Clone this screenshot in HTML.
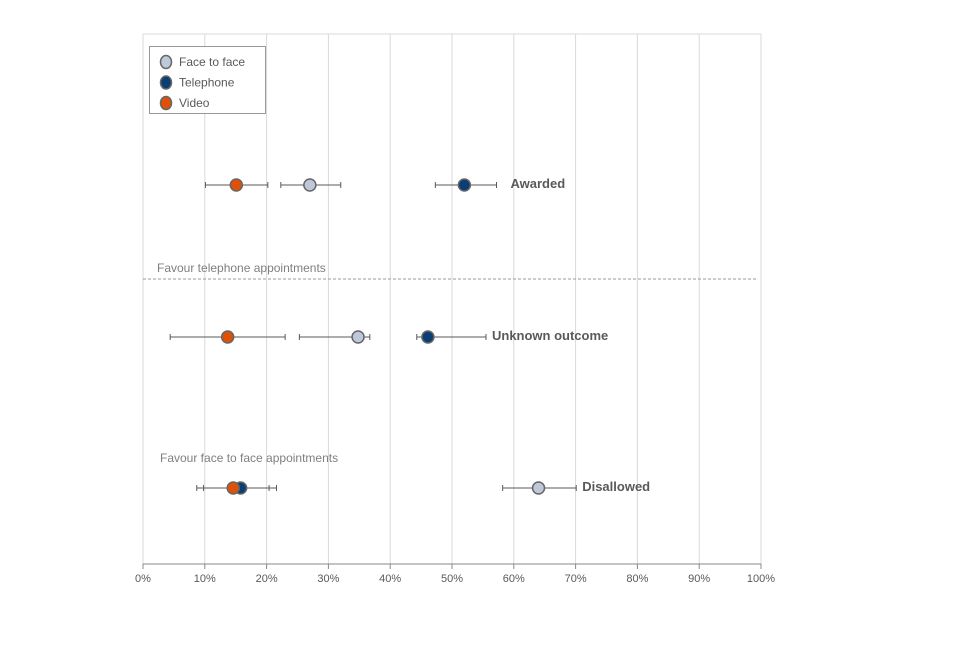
<!DOCTYPE html>
<html><head><meta charset="utf-8"><style>
body{margin:0;background:#fff;width:960px;height:640px;overflow:hidden;font-family:"Liberation Sans",Arial,sans-serif}
</style></head><body>
<svg id="chart" width="960" height="640" xmlns="http://www.w3.org/2000/svg" font-family="Liberation Sans, Arial, sans-serif"></svg>
<script>
const categories = ["Awarded","Unknown outcome","Disallowed"];
const seriesNames = ["Video","Face to face","Telephone"];
const videoVals = [15.1, 13.7, 14.6];
const videoLo = [10.1, 4.4, 8.7];
const videoHi = [20.2, 23.0, 20.4];
const faceVals = [27.0, 34.8, 64.0];
const faceLo = [22.3, 25.3, 58.2];
const faceHi = [32.0, 36.7, 70.1];
const teleVals = [52.0, 46.1, 15.8];
const teleLo = [47.3, 44.3, 9.8];
const teleHi = [57.2, 55.5, 21.6];
const xTicks = [0,10,20,30,40,50,60,70,80,90,100];
const NS="http://www.w3.org/2000/svg";
const svg=document.getElementById('chart');
const PL=143,PR=761,PT=34,PB=564;
const catY=[185,337,488];
const labelGap=[14,6,6];
const xs=v=>PL+(PR-PL)*v/100;
function el(t,a,p){const e=document.createElementNS(NS,t);for(const k in a)e.setAttribute(k,a[k]);(p||svg).appendChild(e);return e;}
xTicks.forEach(t=>{
  const g=el('line',{x1:xs(t),x2:xs(t),y1:PT,y2:PB,stroke:'#d9d9d9','stroke-width':1});
  
  
  el('line',{x1:xs(t),x2:xs(t),y1:PB,y2:PB+5,stroke:'#888'});
  const tx=el('text',{x:xs(t),y:582,'text-anchor':'middle','font-size':11,fill:'#595959'});
  tx.textContent=t+'%';
  
  
});
const topLine=el('line',{x1:PL,x2:PR,y1:PT,y2:PT,stroke:'#d9d9d9'});
const ax=el('line',{x1:PL,x2:PR,y1:PB,y2:PB,stroke:'#888'});


const d=el('line',{x1:PL,x2:757,y1:279,y2:279,stroke:'#999','stroke-dasharray':'3,2'});


const a1=el('text',{x:157,y:272,'font-size':12,fill:'#7f7f7f'});a1.textContent='Favour telephone  appointments';


const a2=el('text',{x:160,y:462,'font-size':12,fill:'#7f7f7f'});a2.textContent='Favour face to face appointments';


const seriesList=[
 {name:'face',vals:faceVals,lo:faceLo,hi:faceHi,fill:'#bfc7da'},
 {name:'telephone',vals:teleVals,lo:teleLo,hi:teleHi,fill:'#0b3f74'},
 {name:'video',vals:videoVals,lo:videoLo,hi:videoHi,fill:'#df5107'}];
seriesList.forEach(s=>{s.vals.forEach((v,i)=>{
  const y=catY[i];
  const e=el('line',{x1:xs(s.lo[i]),x2:xs(s.hi[i]),y1:y,y2:y,stroke:'#595959'});
  
  
  el('line',{x1:xs(s.lo[i]),x2:xs(s.lo[i]),y1:y-3,y2:y+3,stroke:'#595959'});
  el('line',{x1:xs(s.hi[i]),x2:xs(s.hi[i]),y1:y-3,y2:y+3,stroke:'#595959'});
});});
seriesList.forEach(s=>{s.vals.forEach((v,i)=>{
  const c=el('circle',{cx:xs(v),cy:catY[i],r:6,fill:s.fill,stroke:'#666','stroke-width':1.5});
  
  
});});
categories.forEach((c,i)=>{
  const mx=Math.max(videoHi[i],faceHi[i],teleHi[i]);
  const t=el('text',{x:xs(mx)+labelGap[i],y:catY[i]+3,'font-size':13,'font-weight':'bold',fill:'#595959'});
  t.textContent=c;
  
  
});
const lg=el('g',{});


el('rect',{x:149.5,y:46.5,width:116,height:67,fill:'#fff',stroke:'#999'},lg);
const legendItems=[['Face to face','#bfc7da'],['Telephone','#0b3f74'],['Video','#df5107']];
legendItems.forEach((it,i)=>{
  const y=62+i*20.5;
  const c=el('ellipse',{cx:166,cy:y,rx:5.5,ry:6.5,fill:it[1],stroke:'#666','stroke-width':1.5},lg);
  
  
  const t=el('text',{x:179,y:y+4,'font-size':12,fill:'#595959'},lg);t.textContent=it[0];
  
  
});
</script>
</body></html>
